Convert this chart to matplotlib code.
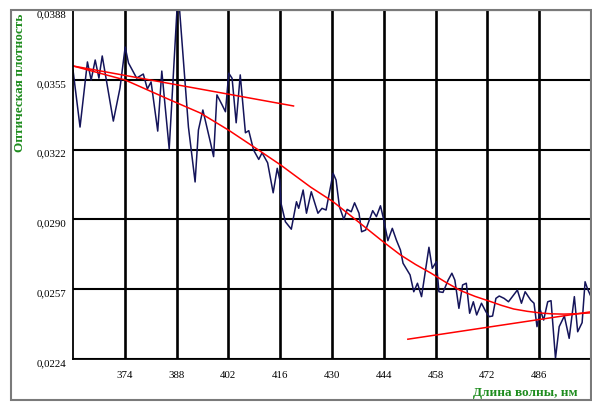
import matplotlib
matplotlib.use("Agg")
import matplotlib.pyplot as plt
from matplotlib.patches import Rectangle

# Measured spectrum: wavelength (nm) and optical density
wavelength = [
    360.0, 361.9, 363.9, 364.9, 366.0, 367.0, 367.9, 370.9, 372.7, 374.1,
    375.0, 377.2, 379.0, 380.1, 381.1, 382.9, 384.0, 386.0, 388.4, 391.2,
    393.0, 393.9, 395.1, 397.1, 398.0, 398.9, 400.3, 401.2, 402.1, 403.0,
    404.1, 405.2, 406.6, 407.5, 408.8, 410.2, 411.1, 412.6, 414.1, 415.2,
    415.9, 416.2, 417.4, 419.0, 420.4, 421.0, 422.2, 423.1, 424.4, 426.2,
    427.3, 428.4, 430.3, 431.1, 432.0, 433.2, 434.1, 435.2, 436.1, 437.3,
    438.0, 439.1, 441.0, 442.0, 443.1, 444.0, 445.1, 446.3, 447.4, 448.5,
    449.2, 451.1, 452.1, 453.1, 454.2, 456.2, 457.1, 458.2, 458.9, 460.0,
    461.4, 462.4, 463.2, 464.3, 465.3, 466.3, 467.2, 468.2, 469.1, 470.4,
    471.6, 472.5, 473.4, 474.3, 475.2, 476.5, 477.7, 480.1, 481.2, 482.2,
    483.7, 484.6, 485.4, 486.3, 487.2, 488.3, 489.2, 490.4, 491.4, 492.8,
    494.1, 495.5, 496.4, 497.6, 498.4, 499.1, 500.0,
]
density = [
    0.03598, 0.03330, 0.03636, 0.03551, 0.03645, 0.03560, 0.03664, 0.03358, 0.03513, 0.03706,
    0.03631, 0.03560, 0.03579, 0.03509, 0.03542, 0.03311, 0.03593, 0.03227, 0.03974, 0.03330,
    0.03072, 0.03316, 0.03410, 0.03261, 0.03191, 0.03481, 0.03434, 0.03402, 0.03583, 0.03559,
    0.03350, 0.03575, 0.03303, 0.03313, 0.03222, 0.03178, 0.03209, 0.03162, 0.03021, 0.03136,
    0.03081, 0.02973, 0.02885, 0.02850, 0.02979, 0.02948, 0.03034, 0.02925, 0.03026, 0.02925,
    0.02948, 0.02940, 0.03113, 0.03081, 0.02956, 0.02896, 0.02943, 0.02932, 0.02974, 0.02925,
    0.02838, 0.02846, 0.02937, 0.02909, 0.02960, 0.02893, 0.02796, 0.02854, 0.02799, 0.02752,
    0.02690, 0.02635, 0.02556, 0.02596, 0.02533, 0.02765, 0.02666, 0.02697, 0.02556, 0.02553,
    0.02611, 0.02643, 0.02611, 0.02478, 0.02588, 0.02596, 0.02455, 0.02509, 0.02447, 0.02502,
    0.02462, 0.02439, 0.02442, 0.02525, 0.02536, 0.02525, 0.02509, 0.02564, 0.02502, 0.02556,
    0.02517, 0.02502, 0.02392, 0.02470, 0.02423, 0.02509, 0.02514, 0.02243, 0.02392, 0.02442,
    0.02337, 0.02533, 0.02368, 0.02411, 0.02603, 0.02568, 0.02533,
]

# Smoothed fit through the spectrum
fit_wavelength = [360.0, 374.1, 386.3, 394.4, 402.0, 409.7, 416.1, 424.2, 430.3, 435.8,
                  443.9, 448.5, 452.6, 456.7, 460.8, 464.8, 468.7, 472.5, 475.8, 479.1,
                  482.8, 486.5, 489.6, 492.7, 496.4, 500.0]
fit_density = [0.03617, 0.03551, 0.03457, 0.03396, 0.03316, 0.03227, 0.03152, 0.03048, 0.02979, 0.02903,
               0.02790, 0.02729, 0.02684, 0.02644, 0.02600, 0.02561, 0.02534, 0.02512, 0.02492, 0.02475,
               0.02464, 0.02456, 0.02452, 0.02451, 0.02453, 0.02457]

# Tangents to the short- and long-wave parts of the curve
tangent_short_x = [360.0, 419.6]
tangent_short_y = [0.03617, 0.03429]
tangent_long_x = [450.5, 500.0]
tangent_long_y = [0.02333, 0.02462]

x_ticks = [374, 388, 402, 416, 430, 444, 458, 472, 486]
y_ticks = [0.0224, 0.02568, 0.02896, 0.03224, 0.03552, 0.0388]
y_tick_labels = ["0,0224", "0,0257", "0,0290", "0,0322", "0,0355", "0,0388"]

W, H = 592, 403
fig = plt.figure(figsize=(W / 100, H / 100), dpi=100)
fig.patch.set_facecolor("white")

# outer frame round the whole chart
fig.patches.append(Rectangle((11 / W, 1 - 400 / H), 580 / W, 390 / H,
                             transform=fig.transFigure, fill=False,
                             edgecolor="#7a7a7a", linewidth=1.5))

ax = fig.add_axes([73 / W, 1 - 359 / H, 518 / W, 349 / H])
ax.set_xlim(360, 500)
ax.set_ylim(0.0224, 0.0388)

ax.set_xticks(x_ticks)
ax.set_xticklabels([str(t) for t in x_ticks])
ax.set_yticks(y_ticks)
ax.set_yticklabels(y_tick_labels)

serif = ["Liberation Serif", "DejaVu Serif"]
ax.tick_params(axis="both", length=0, labelsize=7.8)
ax.tick_params(axis="y", pad=4.5)
ax.tick_params(axis="x", pad=9)
for lab in ax.get_xticklabels() + ax.get_yticklabels():
    lab.set_family(serif)
for lab in ax.get_yticklabels():
    lab.set_va("top")

ax.grid(axis="x", color="black", linewidth=1.9)
ax.grid(axis="y", color="black", linewidth=1.5)
ax.set_axisbelow(True)

for side in ("left", "bottom", "top"):
    ax.spines[side].set_color("black")
    ax.spines[side].set_linewidth(1.3)
ax.spines["right"].set_color("#7a7a7a")
ax.spines["right"].set_linewidth(1.8)

ax.plot(wavelength, density, color="#14145a", linewidth=1.1)
ax.plot(fit_wavelength, fit_density, color="#ff0000", linewidth=1.1)
ax.plot(tangent_short_x, tangent_short_y, color="#ff0000", linewidth=1.1)
ax.plot(tangent_long_x, tangent_long_y, color="#ff0000", linewidth=1.1)

green = "#1e8c1e"
fig.text(20 / W, 1 - 83 / H, "Оптическая плотность", rotation=90,
         ha="center", va="center", color=green, fontsize=9.5,
         fontweight="bold", family=serif)
fig.text(578 / W, 1 - 393 / H, "Длина волны, нм", ha="right", va="center",
         color=green, fontsize=9.5, fontweight="bold", family=serif)

fig.savefig("out.png", dpi=100)
